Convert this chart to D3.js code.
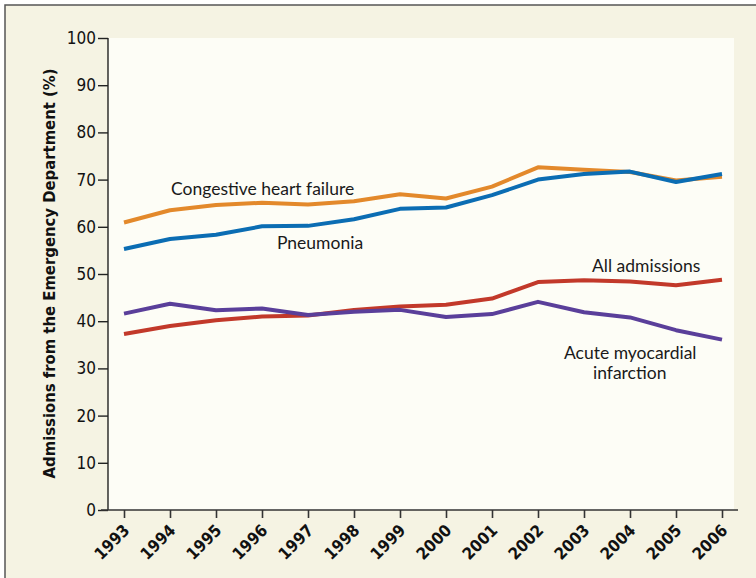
<!DOCTYPE html>
<html lang="en">
<head>
<meta charset="UTF-8">
<script src="https://d3js.org/d3.v7.min.js"></script>
<style>
    body { margin: 0; padding: 0; background: #ffffff; }
    svg { display: block; }
    .tick text { font-family: "DejaVu Sans Condensed", "DejaVu Sans", sans-serif; fill: #111; }
    .note { font-family: Lato, "Open Sans", sans-serif; font-size: 17.5px; fill: #1a1a1a; }
</style>
</head>
<body>
<div id="chart"></div>
<script>
    // data
    var years = [1993, 1994, 1995, 1996, 1997, 1998, 1999, 2000, 2001, 2002, 2003, 2004, 2005, 2006];
    var chf = [60.9, 63.5, 64.6, 65.1, 64.7, 65.4, 66.9, 66.0, 68.5, 72.6, 72.1, 71.6, 69.8, 70.6];
    var pneumonia = [55.3, 57.4, 58.3, 60.1, 60.2, 61.6, 63.8, 64.1, 66.7, 70.0, 71.2, 71.7, 69.5, 71.2];
    var allAdmissions = [37.3, 39.0, 40.2, 41.0, 41.2, 42.4, 43.1, 43.5, 44.8, 48.3, 48.7, 48.4, 47.6, 48.8];
    var ami = [41.6, 43.7, 42.3, 42.7, 41.3, 42.0, 42.4, 40.9, 41.5, 44.1, 41.9, 40.8, 38.1, 36.1];
    var yTicks = [0, 10, 20, 30, 40, 50, 60, 70, 80, 90, 100];

    var series = [
        { name: "chf", values: chf, color: "#e3892b" },
        { name: "pneumonia", values: pneumonia, color: "#0b6db3" },
        { name: "all", values: allAdmissions, color: "#c2392a" },
        { name: "ami", values: ami, color: "#5a3f9a" }
    ];

    var W = 756, H = 578;
    var svg = d3.select("#chart").append("svg")
        .attr("width", W)
        .attr("height", H);

    // beige panel with frame
    svg.append("rect")
        .attr("x", 5).attr("y", 5)
        .attr("width", W + 10).attr("height", H + 10)
        .attr("fill", "#f5f3e3")
        .attr("stroke", "#555")
        .attr("stroke-width", 1.5);

    var x = d3.scaleLinear().domain([1993, 2006]).range([124, 722]);
    var y = d3.scaleLinear().domain([0, 100]).range([510, 38]);

    // lighter plot area
    svg.append("rect")
        .attr("x", 108).attr("y", y(100))
        .attr("width", 626).attr("height", y(0) - y(100))
        .attr("fill", "#fdfdf6");

    // y axis
    var yAxis = svg.append("g")
        .attr("transform", "translate(108,0)")
        .call(d3.axisLeft(y).tickValues(yTicks).tickSize(10).tickPadding(2));
    yAxis.selectAll("text").style("font-size", "17px");
    yAxis.selectAll("line, path").attr("stroke", "#222").attr("stroke-width", 1.4);
    yAxis.select(".domain").attr("d", "M0," + y(100) + "V" + y(0));

    // x axis
    var xAxis = svg.append("g")
        .attr("transform", "translate(0,510)")
        .call(d3.axisBottom(x).tickValues(years).tickFormat(d3.format("d")).tickSize(8));
    xAxis.select(".domain").attr("d", "M101,0H738");
    xAxis.selectAll("line, path").attr("stroke", "#333").attr("stroke-width", 1.6);
    xAxis.selectAll("text")
        .style("font-size", "16.5px")
        .style("font-weight", "bold")
        .style("text-anchor", "end")
        .attr("y", 0)
        .attr("dy", null)
        .attr("transform", "translate(6,21.5) rotate(-45)");

    // y axis title
    svg.append("text")
        .attr("transform", "translate(55,273.5) rotate(-90)")
        .attr("text-anchor", "middle")
        .style("font-family", "\"DejaVu Sans Condensed\", sans-serif")
        .style("font-size", "16.5px")
        .style("font-weight", "bold")
        .style("fill", "#111")
        .text("Admissions from the Emergency Department (%)");

    // lines
    var line = d3.line()
        .x(function (d, i) { return x(years[i]); })
        .y(function (d) { return y(d); });

    svg.selectAll(".series")
        .data(series)
        .enter()
        .append("path")
        .attr("class", "series")
        .attr("d", function (d) { return line(d.values); })
        .attr("fill", "none")
        .attr("stroke", function (d) { return d.color; })
        .attr("stroke-width", 4)
        .attr("stroke-linejoin", "round");

    // labels
    var notes = [
        { t: "Congestive heart failure", x: 171, y: 195 },
        { t: "Pneumonia", x: 277, y: 249 },
        { t: "All admissions", x: 592, y: 272 },
        { t: "Acute myocardial", x: 564, y: 359 },
        { t: "infarction", x: 593, y: 379 }
    ];
    svg.selectAll(".note")
        .data(notes)
        .enter()
        .append("text")
        .attr("class", "note")
        .attr("x", function (d) { return d.x; })
        .attr("y", function (d) { return d.y; })
        .text(function (d) { return d.t; });
</script>
</body>
</html>
